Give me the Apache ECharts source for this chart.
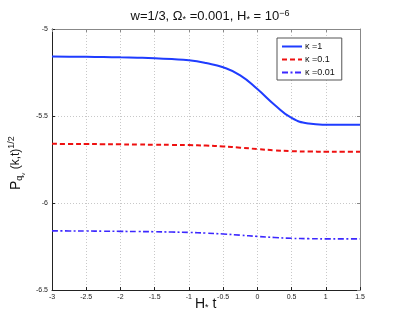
<!DOCTYPE html>
<html>
<head>
<meta charset="utf-8">
<script src="https://cdn.jsdelivr.net/npm/echarts@6/dist/echarts.min.js"></script>
<style>
  html, body { margin: 0; padding: 0; background: #fff; }
  #chart { width: 398px; height: 327px; }
</style>
</head>
<body>
<div id="chart"></div>
<script>
// H* t values
var tVals = [-3, -2.75, -2.5, -2.25, -2, -1.75, -1.5, -1.25, -1, -0.75, -0.5, -0.25, 0, 0.25, 0.5, 0.75, 1, 1.25, 1.5];
// kappa = 1
var kappa1 = [-5.158, -5.159, -5.16, -5.161, -5.163, -5.165, -5.168, -5.173, -5.18, -5.196, -5.22, -5.266, -5.345, -5.435, -5.511, -5.543, -5.55, -5.551, -5.551];
// kappa = 0.1
var kappa01 = [-5.66, -5.6605, -5.661, -5.662, -5.663, -5.664, -5.665, -5.666, -5.667, -5.67, -5.675, -5.682, -5.69, -5.697, -5.702, -5.704, -5.705, -5.705, -5.705];
// kappa = 0.01
var kappa001 = [-6.16, -6.1605, -6.161, -6.162, -6.163, -6.164, -6.165, -6.167, -6.169, -6.173, -6.178, -6.185, -6.192, -6.198, -6.203, -6.205, -6.206, -6.206, -6.206];
var seriesNames = ['\u03ba =1', '\u03ba =0.1', '\u03ba =0.01'];

function pairs(ys) {
    var out = [];
    for (var i = 0; i < tVals.length; i++) {
        out.push([tVals[i], ys[i]]);
    }
    return out;
}

function tickFmt(v) {
    return String(Math.round(v * 10) / 10);
}

var myChart = echarts.init(document.getElementById('chart'));
var font = 'Liberation Sans, Arial, sans-serif';

var option = {
    animation: false,
    backgroundColor: '#fff',
    textStyle: { fontFamily: font },
    title: {
        text: 'w=1/3, \u03a9{sub|*} =0.001, H{sub|*} = 10{sup|\u22126}',
        left: 205,
        textAlign: 'center',
        top: 4,
        textStyle: {
            fontSize: 13, fontWeight: 'normal', color: '#111', fontFamily: font,
            rich: {
                sub: { fontSize: 9, verticalAlign: 'bottom', padding: [6, 0, 0, 0], color: '#111' },
                sup: { fontSize: 9, verticalAlign: 'top', padding: [0, 0, 6, 0], color: '#111' }
            }
        }
    },
    grid: { left: 52, right: 38, top: 29, bottom: 37, show: false },
    legend: {
        orient: 'vertical',
        left: 277, top: 38,
        itemWidth: 20, itemHeight: 8, itemGap: 4,
        padding: [4, 7, 3, 4],
        borderColor: '#555', borderWidth: 1,
        backgroundColor: '#fff',
        itemStyle: { opacity: 0 },
        textStyle: { fontSize: 9, color: '#111', padding: [0, 0, 0, -2] },
        data: seriesNames
    },
    xAxis: [{
        type: 'value', min: -3, max: 1.5, interval: 0.5,
        axisLine: { show: true, onZero: false, lineStyle: { color: '#222', width: 1 } },
        axisTick: { show: true, inside: true, length: 3, lineStyle: { color: '#222' } },
        axisLabel: { fontSize: 7, color: '#222', margin: 4, formatter: tickFmt },
        splitLine: { show: true, lineStyle: { color: '#c8c8c8', type: [1, 2] } }
    }, {
        type: 'value', min: -3, max: 1.5, interval: 0.5, position: 'top',
        axisLine: { show: true, onZero: false, lineStyle: { color: '#888', width: 1 } },
        axisTick: { show: true, inside: true, length: 3, lineStyle: { color: '#888' } },
        axisLabel: { show: false },
        splitLine: { show: false }
    }],
    yAxis: [{
        type: 'value', min: -6.5, max: -5, interval: 0.5,
        axisLine: { show: true, onZero: false, lineStyle: { color: '#222', width: 1 } },
        axisTick: { show: true, inside: true, length: 3, lineStyle: { color: '#222' } },
        axisLabel: { fontSize: 7, color: '#222', margin: 4, formatter: tickFmt },
        splitLine: { show: true, lineStyle: { color: '#c8c8c8', type: [1, 2] } }
    }, {
        type: 'value', min: -6.5, max: -5, interval: 0.5, position: 'right',
        axisLine: { show: true, onZero: false, lineStyle: { color: '#888', width: 1 } },
        axisTick: { show: true, inside: true, length: 3, lineStyle: { color: '#888' } },
        axisLabel: { show: false },
        splitLine: { show: false }
    }],
    graphic: [{
        type: 'text',
        left: 195, top: 297,
        style: {
            text: 'H{sub|*} t',
            font: '14px ' + font,
            fill: '#111',
            rich: { sub: { fontSize: 9, padding: [7, 0, 0, 0], fill: '#111' } }
        }
    }, {
        type: 'text',
        x: 6, y: 190,
        rotation: Math.PI / 2,
        style: {
            text: 'P{sub|q}{sub2|v}{n| (k,t)}{sup|1/2}',
            font: '14px ' + font,
            fill: '#111',
            rich: {
                sub: { fontSize: 9, padding: [8, 0, 0, 0], fill: '#111' },
                sub2: { fontSize: 6, padding: [14, 0, 0, 0], fill: '#111' },
                n: { fontSize: 12, fill: '#111' },
                sup: { fontSize: 9, padding: [0, 0, 8, 0], fill: '#111' }
            }
        }
    }],
    series: [{
        name: seriesNames[0], type: 'line', smooth: 0.5, showSymbol: false, symbol: 'none',
        color: '#1f3cff',
        lineStyle: { width: 2, color: '#1f3cff', type: 'solid' },
        data: pairs(kappa1)
    }, {
        name: seriesNames[1], type: 'line', smooth: 0.5, showSymbol: false, symbol: 'none',
        color: '#ee1010',
        lineStyle: { width: 2, color: '#ee1010', type: [5, 3] },
        data: pairs(kappa01)
    }, {
        name: seriesNames[2], type: 'line', smooth: 0.5, showSymbol: false, symbol: 'none',
        color: '#3c28ff',
        lineStyle: { width: 1.6, color: '#3c28ff', type: [6, 2.5, 2, 2.5] },
        data: pairs(kappa001)
    }]
};

myChart.setOption(option);
</script>
</body>
</html>
